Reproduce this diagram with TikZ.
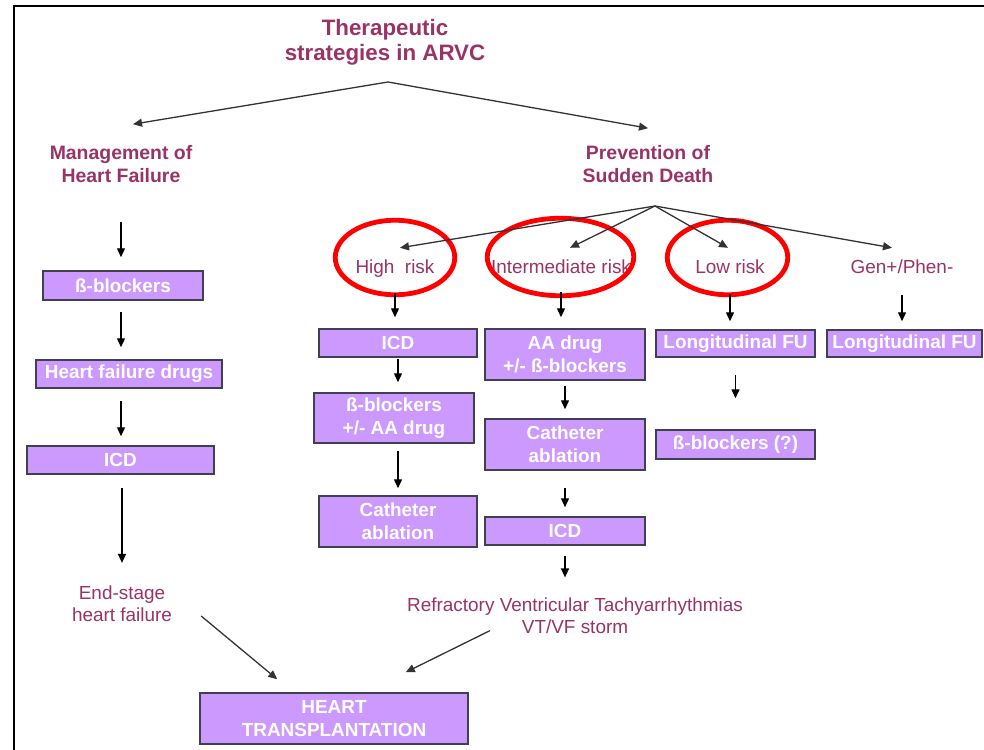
\documentclass[tikz,border=0pt]{standalone}
\usepackage{fontspec}
\setmainfont{Liberation Sans}
\usetikzlibrary{
    arrows.meta,
    shapes.geometric
}
\definecolor{plum}{HTML}{993366}
\definecolor{lilac}{HTML}{CC99FF}
\definecolor{boxline}{HTML}{404050}

\begin{document}
\begin{tikzpicture}[
    x=1bp, y=-1bp,
    >={Triangle[length=9bp, width=8bp]},
    head/.style={font=\fontsize{22.4}{25}\selectfont\bfseries, text=plum, align=center, inner sep=0pt},
    branch/.style={font=\fontsize{19.5}{23}\selectfont\bfseries, text=plum, align=center, inner sep=0pt},
    risk/.style={font=\fontsize{19}{22}\selectfont, text=plum, inner sep=0pt, text height=14bp, text depth=4bp},
    note/.style={font=\fontsize{19}{22}\selectfont, text=plum, align=center, inner sep=0pt},
    therapy/.style={draw=boxline, line width=1.5bp, fill=lilac, text=white, font=\fontsize{19}{23}\selectfont\bfseries, align=center, inner sep=0pt},
    arr/.style={->, line width=1.4bp},
    fan/.style={->, line width=1.3bp, draw=black!80},
    ring/.style={ellipse, draw=red, line width=4.8bp, inner sep=0pt}
]
\useasboundingbox (0,0) rectangle (984,750);

% Slide frame
\draw[line width=2bp] (14,750) -- (14,6) -- (984,6);

% Headings
\node[head] (title) at (385,42.7) {Therapeutic\\strategies in ARVC};
\node[branch] (mgmt) at (121,164) {Management of\\Heart Failure};
\node[branch] (prev) at (648,164) {Prevention of\\Sudden Death};

% Risk groups
\node[risk] (high) at (395,268.5) {High~~risk};
\node[risk] (inter) at (561,268.5) {Intermediate risk};
\node[risk] (low) at (730,268.5) {Low risk};
\node[risk] (gen) at (902,268.5) {Gen+/Phen-};

\node[ring, minimum width=119.5bp, minimum height=74.5bp] (highring) at (395,257.5) {};
\node[ring, minimum width=146.5bp, minimum height=77.5bp] (interring) at (560.5,257) {};
\node[ring, minimum width=120.5bp, minimum height=74.5bp] (lowring) at (727.5,257.5) {};

% Heart failure column
\node[therapy, minimum width=160bp, minimum height=29bp] (bb1) at (123,285.5) {ß-blockers};
\node[therapy, minimum width=186bp, minimum height=28bp] (hfd) at (129,374) {Heart failure drugs};
\node[therapy, minimum width=187bp, minimum height=28bp] (icd1) at (120.5,460) {ICD};
\node[note] (endst) at (122,604) {End-stage\\heart failure};

% High risk column
\node[therapy, minimum width=158bp, minimum height=28bp] (icd2) at (398,343) {ICD};
\node[therapy, minimum width=160bp, minimum height=50bp] (bbaa) at (394,418) {ß-blockers\\+/- AA drug};
\node[therapy, minimum width=158bp, minimum height=51bp] (cath1) at (398,521.5) {Catheter\\ablation};

% Intermediate risk column
\node[therapy, minimum width=160bp, minimum height=51bp] (aa) at (565,354.5) {AA drug\\+/- ß-blockers};
\node[therapy, minimum width=160bp, minimum height=51bp] (cath2) at (565,444.5) {Catheter\\ablation};
\node[therapy, minimum width=160bp, minimum height=28bp] (icd3) at (565,531) {ICD};
\node[note] (refr) at (575,615.5) {Refractory Ventricular Tachyarrhythmias\\VT/VF storm};

% Low risk and Gen+/Phen- columns
\node[therapy, minimum width=159bp, minimum height=27bp] (lfu1) at (735.5,343.5) {Longitudinal FU};
\node[therapy, minimum width=159bp, minimum height=29bp] (bbq) at (735.5,444.5) {ß-blockers (?)};
\node[therapy, minimum width=155bp, minimum height=27bp] (lfu2) at (904.5,343.5) {Longitudinal FU};

% Final step
\node[therapy, minimum width=268bp, minimum height=51bp] (ht) at (334,718.5) {HEART\\TRANSPLANTATION};

% Branching arrows
\coordinate (tfork) at (388,82);
\draw[fan] (tfork) -- ([shift={(12,-21)}]mgmt.north);
\draw[fan] (tfork) -- ([shift={(0,-17)}]prev.north);
\coordinate (pfork) at (655,206);
\draw[fan] (pfork) -- ([shift={(5,-11.5)}]high.north);
\draw[fan] (pfork) -- ([shift={(9,-11.5)}]inter.north);
\draw[fan] (pfork) -- ([shift={(-2,-11.5)}]low.north);
\draw[fan] (pfork) -- ([shift={(-10,-11.5)}]gen.north);

% Heart failure chain
\draw[arr, shorten <=39bp, shorten >=13bp] (mgmt.south) -- (mgmt.south |- bb1.north);
\draw[arr, shorten <=11bp, shorten >=12bp] (bb1.south -| mgmt) -- (hfd.north -| mgmt);
\draw[arr, shorten <=12bp, shorten >=9bp] (hfd.south -| mgmt) -- (icd1.north -| mgmt);
\draw[arr, shorten <=13bp, shorten >=23bp] (icd1.south -| endst) -- (endst.north);

% High risk chain
\draw[arr, shorten <=15.5bp, shorten >=11bp] (high.south) -- (high.south |- icd2.north);
\draw[arr, shorten <=1bp, shorten >=10bp] (icd2.south) -- (icd2.south |- bbaa.north);
\draw[arr, shorten <=7bp, shorten >=7bp] (cath1.north |- bbaa.south) -- (cath1.north);

% Intermediate risk chain
\draw[arr, shorten <=14.5bp, shorten >=11bp] (inter.south) -- (inter.south |- aa.north);
\draw[arr, shorten <=5bp, shorten >=9bp] (aa.south) -- (cath2.north);
\draw[arr, shorten <=17bp, shorten >=9bp] (cath2.south) -- (icd3.north);
\draw[arr, shorten <=10bp, shorten >=20bp] (icd3.south) -- (icd3.south |- refr.north);

% Low risk and Gen+/Phen- chains
\draw[arr, shorten <=16bp, shorten >=8bp] (low.south) -- (low.south |- lfu1.north);
\draw[arr, shorten <=17bp, shorten >=31bp] (lfu1.south) -- (bbq.north);
\draw[arr, shorten <=17bp, shorten >=8bp] (gen.south) -- (gen.south |- lfu2.north);

% Towards transplantation
\draw[fan] ([shift={(29,12)}]endst.east) -- ([shift={(78,-13)}]ht.north west);
\draw[fan] ([shift={(-85,-3)}]refr.south) -- ([shift={(-63,-20)}]ht.north east);
\end{tikzpicture}
\end{document}
